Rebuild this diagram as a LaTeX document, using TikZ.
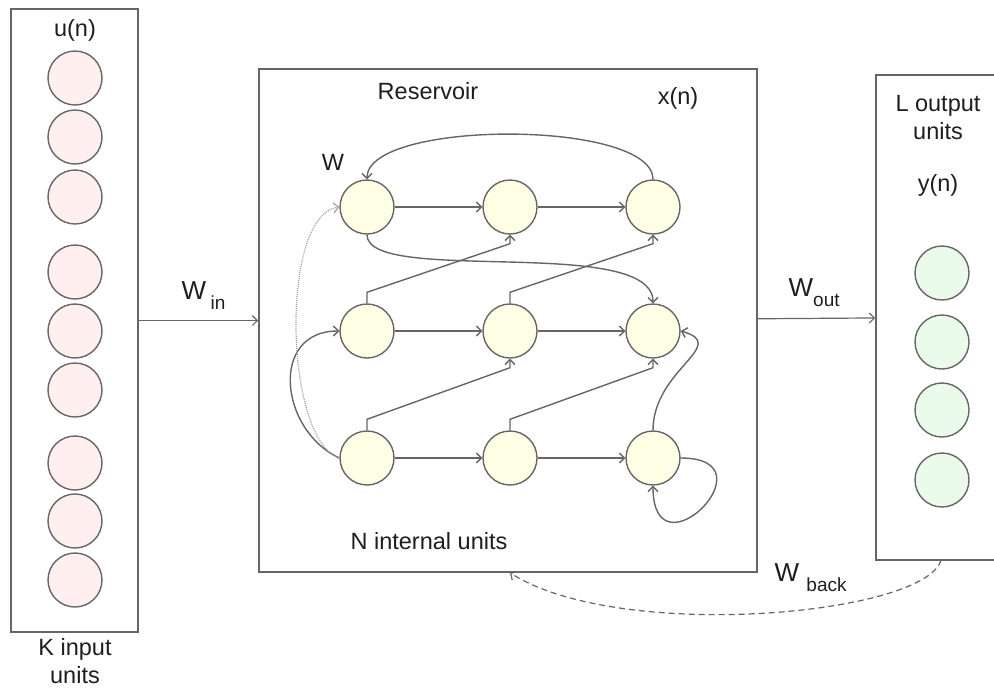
\documentclass[tikz,border=0pt]{standalone}
\usepackage{fontspec}
\setmainfont{Liberation Sans}
\usetikzlibrary{arrows.meta}

\definecolor{linegray}{HTML}{666666}
\definecolor{dotgray}{HTML}{A0A0A0}
\definecolor{inpink}{HTML}{FFEFEF}
\definecolor{resyellow}{HTML}{FFFFE6}
\definecolor{outgreen}{HTML}{EAFBEA}
\definecolor{textgray}{HTML}{1E1E1E}

\newcommand{\wsub}[1]{\raisebox{-10pt}{\fontsize{19}{19}\selectfont#1}}

\begin{document}
\begin{tikzpicture}[x=1pt,y=-1pt,>={Straight Barb[length=5pt,width=10pt]},
    line width=1.4pt,draw=linegray,text=textgray,
    font=\fontsize{23.5}{28}\selectfont,node distance=143pt,
    box/.style={draw=linegray,line width=1.6pt,inner sep=0pt},
    unit/.style={circle,draw=linegray,line width=1.4pt,minimum size=54pt,inner sep=0pt},
    wlab/.style={anchor=base west,inner sep=0pt,font=\fontsize{26}{26}\selectfont}]
  \useasboundingbox (0,0) rectangle (994,689);

  % the three layers
  \node[box,minimum width=127pt,minimum height=623pt] (inbox) at (74.5,320.5) {};
  \node[box,minimum width=498pt,minimum height=503pt] (res) at (508,320.5) {};
  \node[box,minimum width=130pt,minimum height=485pt] (outbox) at (941,317.5) {};

  % input and output units
  \foreach \y [count=\i] in {78,137,197,272,331,390,463,521,580}
    \node[unit,fill=inpink] (u\i) at (75,\y) {};
  \foreach \y [count=\i] in {273,342,410,480}
    \node[unit,fill=outgreen] (y\i) at (942,\y) {};

  % reservoir units
  \node[unit,fill=resyellow] (r11) at (367,207) {};
  \node[unit,fill=resyellow] (r12) [right of=r11] {};
  \node[unit,fill=resyellow] (r13) [right of=r12] {};
  \node[unit,fill=resyellow] (r21) at (367,331) {};
  \node[unit,fill=resyellow] (r22) [right of=r21] {};
  \node[unit,fill=resyellow] (r23) [right of=r22] {};
  \node[unit,fill=resyellow] (r31) at (367,458) {};
  \node[unit,fill=resyellow] (r32) [right of=r31] {};
  \node[unit,fill=resyellow] (r33) [right of=r32] {};

  % labels
  \node (uname) at (75,30) {u(n)};
  \node[align=center] (kname) at (75,661) {K input\\units};
  \node (resname) at (428,91) {Reservoir};
  \node (xname) at (678,98) {x(n)};
  \node (wname) at (333,162) {W};
  \node (nname) at (429,541) {N internal units};
  \node[align=center] (lname) at (938,118) {L output\\units};
  \node (yname) at (938,185) {y(n)};
  \node[wlab] (win) at (181,299) {W\,\wsub{in}};
  \node[wlab] (wout) at (788,296) {W\wsub{out}};
  \node[wlab] (wback) at (774,581) {W \wsub{back}};

  % rows
  \path[->] (r11) edge (r12)
            (r12) edge (r13)
            (r21) edge (r22)
            (r22) edge (r23)
            (r31) edge (r32)
            (r32) edge (r33);

  % zigzags up to the next row
  \draw[->] (r21.north) -- ++(0,-11) -- ([yshift=-9pt]r12.south) -- (r12.south);
  \draw[->] (r22.north) -- ++(0,-11) -- ([yshift=-9pt]r13.south) -- (r13.south);
  \draw[->] (r31.north) -- ++(0,-11) -- ([yshift=-9pt]r22.south) -- (r22.south);
  \draw[->] (r32.north) -- ++(0,-11) -- ([yshift=-9pt]r23.south) -- (r23.south);

  % curved links
  \draw[->] (r13.north) .. controls +(0,-60) and +(0,-60) .. (r11.north);
  \draw[->] (r11.south) .. controls +(0,51) and +(0,-69) .. (r23.north);
  \draw[->] (r31.west) .. controls +(-60,-28) and +(-70,0) .. (r21.west);
  \draw[->,draw=dotgray,line width=1.2pt,dash pattern=on 1pt off 1pt]
    (r31.west) .. controls +(-55,-18) and +(-60,8) .. (r11.west);
  \draw[->] (r33.north) .. controls +(0,-61) and +(50,14) .. (r23.east);
  \draw[->] (r33.east) .. controls +(95,0) and +(0,95) .. (r33.south);

  % weights between layers
  \draw[->,line width=1.2pt] (inbox) -- (res);
  \draw[->,line width=1.2pt] (res) -- (outbox);
  \coordinate (fb) at (941,560);
  \draw[->,line width=1.2pt,dash pattern=on 6pt off 4pt]
    (fb) .. controls +(-15,55) and +(110,70) .. (r12 |- res.south);
\end{tikzpicture}
\end{document}
